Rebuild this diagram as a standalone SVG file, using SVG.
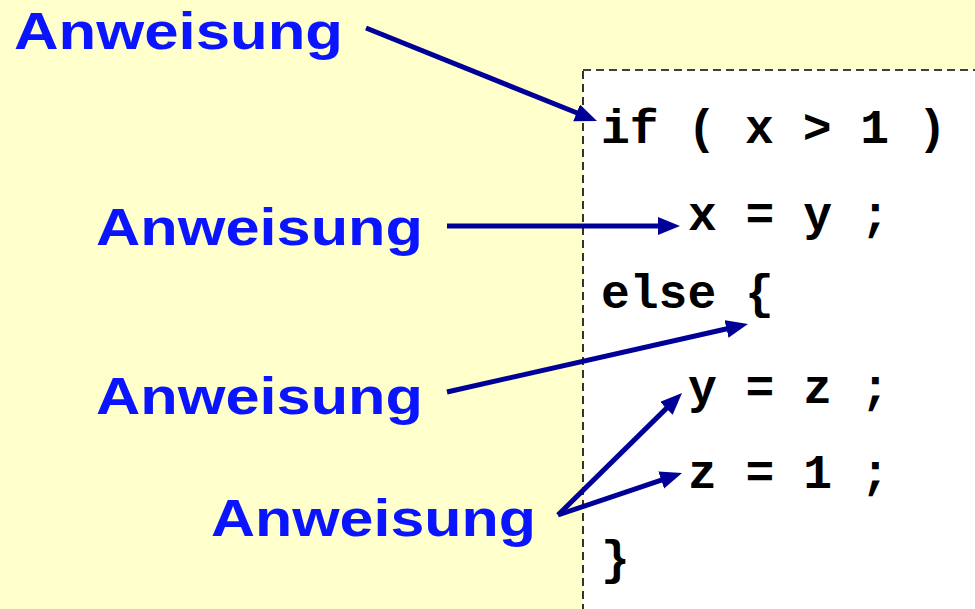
<svg xmlns="http://www.w3.org/2000/svg" width="975" height="609" viewBox="0 0 975 609">
<style>
.lbl{font-family:"Liberation Sans",Arial,sans-serif;font-weight:bold;font-size:52px;fill:#0A14FF}
.code{font-family:"Liberation Mono","Courier New",monospace;font-weight:bold;font-size:48px;fill:#000000;white-space:pre}
.arr{stroke:#000099;stroke-width:5;fill:none;marker-end:url(#ah)}
</style>
<defs>
<marker id="ah" markerUnits="userSpaceOnUse" markerWidth="24" markerHeight="20" refX="4" refY="9" orient="auto" viewBox="0 0 24 20">
<path d="M0,0 L22,9 L0,18 z" fill="#000099"/>
</marker>
</defs>
<rect x="0" y="0" width="975" height="609" fill="#FFFFCC"/>
<g id="codebox">
<rect x="583" y="70" width="400" height="560" fill="#FFFFFF" stroke="#000000" stroke-width="1.6" stroke-dasharray="8,5"/>
<text class="code" x="601" y="143">if ( x &gt; 1 )</text>
<text class="code" x="688" y="230">x = y ;</text>
<text class="code" x="601" y="308">else {</text>
<text class="code" x="688" y="403">y = z ;</text>
<text class="code" x="688" y="488">z = 1 ;</text>
<text class="code" x="601" y="574">}</text>
</g>
<g id="label1"><text class="lbl" x="14" y="49" textLength="329" lengthAdjust="spacingAndGlyphs">Anweisung</text></g>
<g id="label2"><text class="lbl" x="96" y="245" textLength="327" lengthAdjust="spacingAndGlyphs">Anweisung</text></g>
<g id="label3"><text class="lbl" x="96" y="414" textLength="327" lengthAdjust="spacingAndGlyphs">Anweisung</text></g>
<g id="label4"><text class="lbl" x="211" y="536" textLength="325" lengthAdjust="spacingAndGlyphs">Anweisung</text></g>
<g id="connectors">
<line class="arr" x1="366" y1="28" x2="580.3" y2="114.3"/>
<line class="arr" x1="447" y1="226" x2="662" y2="226"/>
<line class="arr" x1="447" y1="392" x2="730.4" y2="328"/>
<line class="arr" x1="558" y1="515" x2="669.2" y2="405.6"/>
<line class="arr" x1="558" y1="515" x2="665" y2="478.8"/>
</g>
</svg>
